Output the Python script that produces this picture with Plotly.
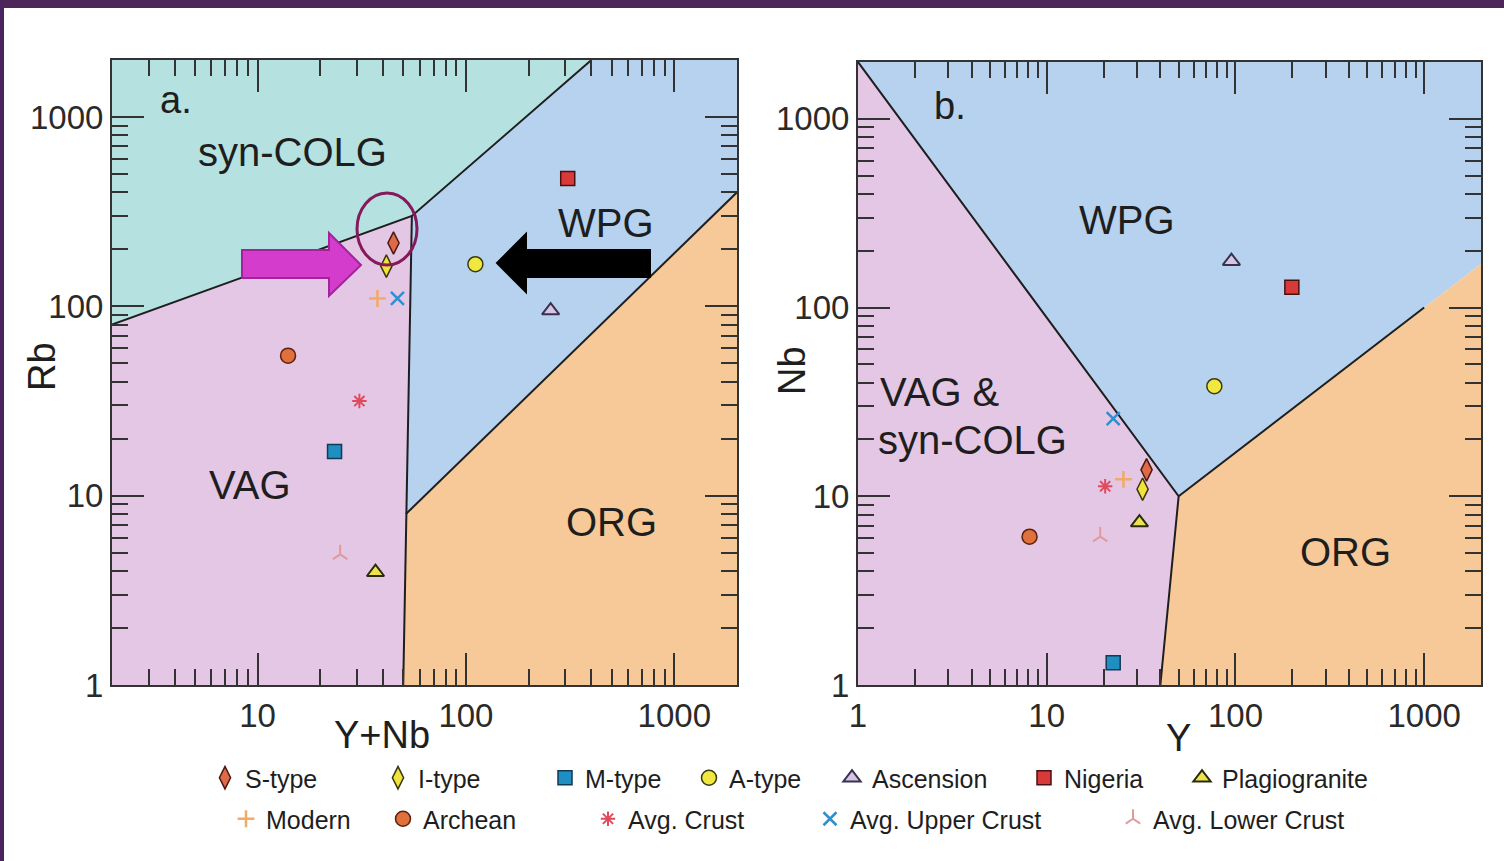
import plotly.graph_objects as go

W, H = 1504, 861
FONT = "Liberation Sans, Arial, Helvetica, sans-serif"
TXT = "#1e1e1e"


def px(x):
    return x / W


def py(y):
    return 1 - y / H


# ---------------- data ----------------
series = ["S-type", "I-type", "M-type", "A-type", "Ascension", "Nigeria",
          "Plagiogranite", "Modern", "Archean", "Avg. Crust",
          "Avg. Upper Crust", "Avg. Lower Crust"]

# panel a: Rb vs Y+Nb
ynb = [44.9, 41.5, 23.4, 111, 255, 308, 36.8, 37.6, 14.0, 30.8, 46.9, 24.9]
rb = [216, 163, 17.1, 167, 95, 474, 3.94, 110, 54.9, 31.6, 110, 4.9]

# panel b: Nb vs Y
y_b = [33.8, 32.2, 22.5, 77.3, 95.2, 199, 31.0, 25.5, 8.11, 20.4, 22.5, 19.2]
nb = [13.8, 10.9, 1.31, 38.3, 176, 128, 7.26, 12.3, 6.11, 11.3, 25.8, 6.11]

# field polygons, panel a (Pearce et al. 1984)
a_syncolg_x = [2, 55, 400, 2]
a_syncolg_y = [80, 300, 2000, 2000]
a_vag_x = [2, 55, 51.5, 50, 2]
a_vag_y = [80, 300, 8, 1, 1]
a_wpg_x = [55, 400, 2000, 2000, 51.5]
a_wpg_y = [300, 2000, 2000, 400, 8]
a_org_x = [51.5, 2000, 2000, 50]
a_org_y = [8, 400, 1, 1]
a_lines = [([2, 55, 400], [80, 300, 2000]),
           ([55, 51.5, 50], [300, 8, 1]),
           ([51.5, 2000], [8, 400])]

# field polygons, panel b
b_vag_x = [1, 50, 40, 1]
b_vag_y = [2000, 10, 1, 1]
b_wpg_x = [1, 50, 1000, 2000, 2000]
b_wpg_y = [2000, 10, 100, 170, 2000]
b_org_x = [40, 50, 1000, 2000, 2000]
b_org_y = [1, 10, 100, 170, 1]
b_lines = [([1, 50, 40], [2000, 10, 1]),
           ([50, 1000], [10, 100])]

# ---------------- styles ----------------
C_SYN = "#b5e1e1"
C_WPG = "#b6d2ee"
C_VAG = "#e4c7e4"
C_ORG = "#f8c998"

styles = [
    dict(symbol="diamond-tall", size=16, color="#de6a48", line=dict(color="#4a1a10", width=1.5)),
    dict(symbol="diamond-tall", size=16, color="#efe33c", line=dict(color="#3a3410", width=1.5)),
    dict(symbol="square", size=14, color="#1f8fc2", line=dict(color="#103a55", width=1.5)),
    dict(symbol="circle", size=15, color="#f0e840", line=dict(color="#3a3a10", width=1.5)),
    dict(symbol="triangle-up", size=15, color="#d4c6e4", line=dict(color="#3a3050", width=2)),
    dict(symbol="square", size=14, color="#d83a3a", line=dict(color="#4a1010", width=1.5)),
    dict(symbol="triangle-up", size=15, color="#ece44a", line=dict(color="#2a2a10", width=2)),
    dict(symbol="cross-thin", size=12, color="#f2aa66", line=dict(color="#f2aa66", width=2.5)),
    dict(symbol="circle", size=15, color="#e0703c", line=dict(color="#5a2010", width=1.5)),
    dict(symbol="asterisk", size=12, color="#e04a5c", line=dict(color="#e04a5c", width=2)),
    dict(symbol="x-thin", size=13, color="#2f8fd0", line=dict(color="#2f8fd0", width=2.5)),
    dict(symbol="y-up", size=12, color="#e0a0a0", line=dict(color="#e09a9a", width=2)),
]

# legend text start positions (px) for each entry
leg_pos = [(245, 778), (418, 778), (585, 778), (729, 778), (872, 778), (1064, 778), (1222, 778),
           (266, 819), (423, 819), (628, 819), (850, 819), (1153, 819)]

fig = go.Figure()


def poly(xs, ys, color, xa, ya):
    fig.add_trace(go.Scatter(x=xs, y=ys, fill="toself", fillcolor=color, mode="lines",
                             line=dict(width=0, color=color), hoverinfo="skip",
                             showlegend=False, xaxis=xa, yaxis=ya))


poly(a_syncolg_x, a_syncolg_y, C_SYN, "x", "y")
poly(a_vag_x, a_vag_y, C_VAG, "x", "y")
poly(a_wpg_x, a_wpg_y, C_WPG, "x", "y")
poly(a_org_x, a_org_y, C_ORG, "x", "y")
poly(b_vag_x, b_vag_y, C_VAG, "x2", "y2")
poly(b_wpg_x, b_wpg_y, C_WPG, "x2", "y2")
poly(b_org_x, b_org_y, C_ORG, "x2", "y2")

for xs, ys in a_lines:
    fig.add_trace(go.Scatter(x=xs, y=ys, mode="lines", line=dict(color="#1e1e1e", width=2),
                             hoverinfo="skip", showlegend=False, xaxis="x", yaxis="y"))
for xs, ys in b_lines:
    fig.add_trace(go.Scatter(x=xs, y=ys, mode="lines", line=dict(color="#1e1e1e", width=2),
                             hoverinfo="skip", showlegend=False, xaxis="x2", yaxis="y2"))

for i, name in enumerate(series):
    lg = "legend" if i == 0 else f"legend{i + 1}"
    fig.add_trace(go.Scatter(x=[ynb[i]], y=[rb[i]], mode="markers", name=name,
                             marker=styles[i], legend=lg, showlegend=True,
                             xaxis="x", yaxis="y"))
    fig.add_trace(go.Scatter(x=[y_b[i]], y=[nb[i]], mode="markers", name=name,
                             marker=styles[i], showlegend=False,
                             xaxis="x2", yaxis="y2"))

axis_common = dict(
    type="log", showgrid=False, zeroline=False, showline=True, mirror="allticks",
    linecolor="#333333", linewidth=2, ticks="inside", ticklen=32, tickwidth=2,
    tickcolor="#333333", dtick=1, exponentformat="none", automargin=False,
    tickfont=dict(family=FONT, size=33, color="#2a2a2a"),
    minor=dict(ticks="inside", ticklen=16, tickwidth=2, tickcolor="#333333", dtick="D1", showgrid=False),
    fixedrange=True,
)

legends = {}
for i, (tx, ty) in enumerate(leg_pos):
    key = "legend" if i == 0 else f"legend{i + 1}"
    legends[key] = dict(x=px(tx - 40), y=py(ty), xref="container", yref="container",
                        xanchor="left", yanchor="middle",
                        orientation="h", bgcolor="rgba(0,0,0,0)", borderwidth=0,
                        font=dict(family=FONT, size=25, color=TXT), itemclick=False,
                        itemdoubleclick=False)

annotations = []


def label(text, x, y, size=40, xanchor="center", angle=0):
    annotations.append(dict(text=text, x=px(x), y=py(y), xref="paper", yref="paper",
                            xanchor=xanchor, yanchor="middle", showarrow=False, textangle=angle,
                            font=dict(family=FONT, size=size, color=TXT)))


label("a.", 176, 100, 38)
label("syn-COLG", 292, 152)
label("WPG", 606, 223)
label("VAG", 250, 485)
label("ORG", 611, 522)
label("b.", 950, 106, 38)
label("WPG", 1127, 220)
label("VAG &", 878, 392, xanchor="left")
label("syn-COLG", 876, 440, xanchor="left")
label("ORG", 1345, 552)
label("Y+Nb", 382, 735, 38)
label("Y", 1178, 738, 38)
label("Rb", 42, 367, 38, angle=-90)
label("Nb", 792, 370, 38, angle=-90)


def path(points):
    return "M " + " L ".join(f"{px(x):.5f},{py(y):.5f}" for x, y in points) + " Z"


shapes = [
    # slide frame
    dict(type="rect", xref="paper", yref="paper", x0=0, x1=1, y0=py(8), y1=1,
         fillcolor="#4e2559", line=dict(width=0), layer="above"),
    dict(type="rect", xref="paper", yref="paper", x0=0, x1=px(4), y0=0, y1=1,
         fillcolor="#4a2460", line=dict(width=0), layer="above"),
    # magenta arrow
    dict(type="path", xref="paper", yref="paper", layer="above",
         path=path([(242, 250), (329, 250), (329, 233), (361, 265), (329, 296), (329, 278), (242, 278)]),
         fillcolor="#d43ccb", line=dict(color="#a3239c", width=2)),
    # black arrow
    dict(type="path", xref="paper", yref="paper", layer="above",
         path=path([(650, 250), (526, 250), (526, 234), (497, 263), (526, 292), (526, 277), (650, 277)]),
         fillcolor="#000000", line=dict(color="#000000", width=2)),
    # ellipse
    dict(type="circle", xref="paper", yref="paper", layer="above",
         x0=px(357), x1=px(417), y0=py(265), y1=py(193),
         line=dict(color="#86195a", width=3)),
]

fig.update_layout(
    template="none",
    width=W, height=H, margin=dict(l=0, r=0, t=0, b=0, autoexpand=False),
    paper_bgcolor="white", plot_bgcolor="white",
    xaxis=dict(axis_common, domain=[px(112), px(737)], range=[0.30103, 3.30103], anchor="y"),
    yaxis=dict(axis_common, domain=[py(685), py(60)], range=[0, 3.30103], anchor="x"),
    xaxis2=dict(axis_common, domain=[px(858), px(1481)], range=[0, 3.30103], anchor="y2"),
    yaxis2=dict(axis_common, domain=[py(685), py(62)], range=[0, 3.30103], anchor="x2"),
    annotations=annotations,
    shapes=shapes,
    showlegend=True,
    **legends,
)

fig.write_html(
    "out.html",
    config={"displayModeBar": False, "responsive": False},
    post_script=(
        "document.documentElement.style.margin='0';"
        "document.documentElement.style.overflow='hidden';"
        "document.body.style.margin='0';document.body.style.overflow='hidden';"
        "var gd=document.getElementById('{plot_id}');"
        "gd.style.position='fixed';gd.style.left='0px';gd.style.top='0px';"
    ),
)
